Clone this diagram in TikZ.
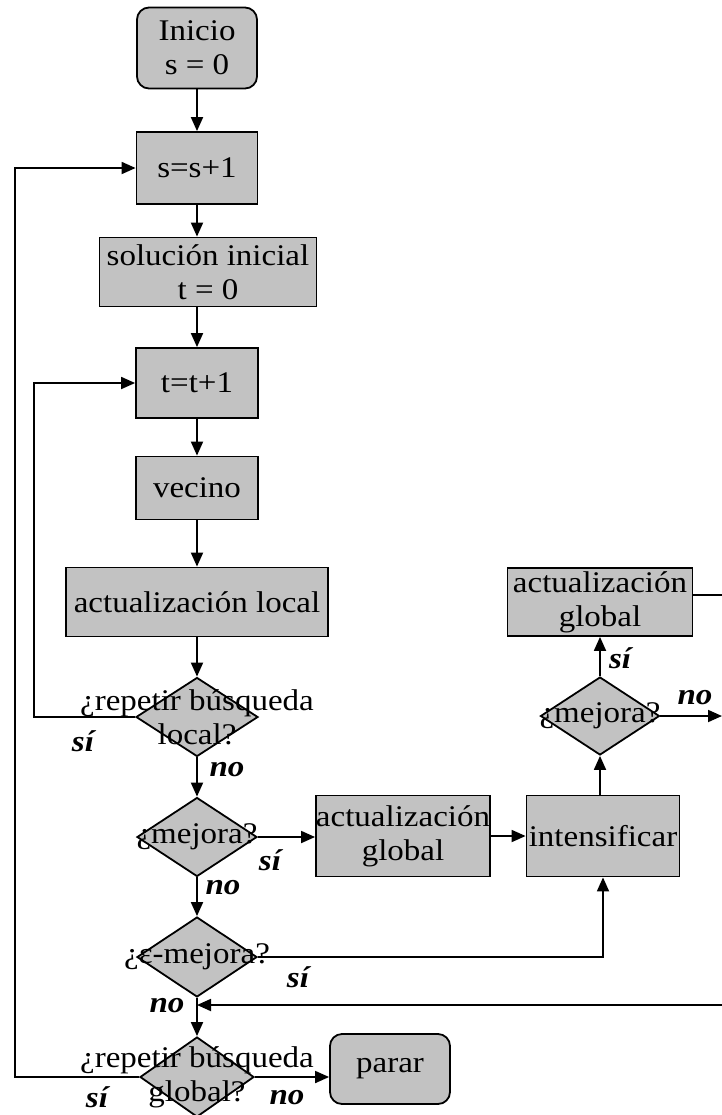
\documentclass[tikz,border=0pt]{standalone}
\usepackage{fontspec}
\setmainfont{Liberation Serif}[FakeStretch=1.1]
\usetikzlibrary{positioning, shapes.geometric, arrows.meta}

\tikzset{
  proc/.style={draw, fill=black!24, inner sep=0pt, align=center, font=\fontsize{15}{17}\selectfont},
  term/.style={proc, rounded corners=6pt},
  dec/.style={draw, fill=black!24, diamond, inner sep=0pt},
  txt/.style={align=center, inner sep=0pt, font=\fontsize{15}{17}\selectfont},
  lbl/.style={font=\fontsize{15}{17}\selectfont\bfseries\itshape},
  flow/.style={-{Triangle[length=7pt,width=6pt]}}
}

\begin{document}
\begin{tikzpicture}[x=0.5pt, y=-0.5pt, line width=0.9pt]
    \useasboundingbox (0,0) rectangle (722,1115);

    % Main column
    \node[term, minimum width=60pt, minimum height=40.5pt] (ini) at (197,48) {Inicio\\s = 0};
    \node[proc, minimum width=60.5pt, minimum height=36pt] (ss) at (197,168) {s=s+1};
    \node[proc, minimum width=108.5pt, minimum height=34.5pt] (sol) at (208,272) {solución inicial\\t = 0};
    \node[proc, minimum width=61pt, minimum height=35pt] (tt) at (197,383) {t=t+1};
    \node[proc, minimum width=61pt, minimum height=31.5pt] (vec) at (197,488) {vecino};
    \node[proc, minimum width=131pt, minimum height=34.5pt] (actl) at (197,602) {actualización local};

    % Decisions
    \node[dec, minimum width=61pt, minimum height=39.5pt, label={[txt]center:{¿repetir búsqueda\\local?}}] (rloc) at (197,717) {};
    \node[dec, minimum width=60pt, minimum height=39.5pt, label={[txt]center:{¿mejora?}}] (mej1) at (197,837) {};
    \node[dec, minimum width=60pt, minimum height=40pt, label={[txt]center:{¿ε-mejora?}}] (eps) at (197,957) {};
    \node[dec, minimum width=57pt, minimum height=40pt, label={[txt]center:{¿repetir búsqueda\\global?}}] (rglo) at (197,1077) {};
    \node[term, minimum width=60pt, minimum height=35pt] (stop) at (390,1069) {parar};

    % Right part
    \node[proc, minimum width=86.5pt, minimum height=40.5pt] (actg1) at (403,836) {actualización\\global};
    \node[proc, minimum width=76.5pt, minimum height=40.5pt] (ints) at (603,836) {intensificar};
    \node[dec, minimum width=59.5pt, minimum height=39pt, label={[txt]center:{¿mejora?}}] (mej2) at (600,716) {};
    \node[proc, minimum width=92.5pt, minimum height=34pt] (actg2) at (600,602) {actualización\\global};

    % Corners and loose ends
    \coordinate (iL) at (34,0);
    \coordinate (oL) at (15,0);
    \coordinate (rA) at (722,595);
    \coordinate (rB) at (722,716);
    \coordinate (rC) at (722,1005);
    \coordinate (join) at (197,1005);

    % Connectors
    \draw[flow] (ini) -- (ss);
    \draw[flow] (ss.south) -- (ss.south |- sol.north);
    \draw[flow] (sol.south -| tt.north) -- (tt.north);
    \draw[flow] (tt) -- (vec);
    \draw[flow] (vec) -- (actl);
    \draw[flow] (actl) -- (rloc);
    \draw[flow] (rloc) -- (mej1);
    \draw[flow] (mej1) -- (eps);
    \draw[flow] (eps) -- (rglo);
    \draw[flow] (rloc.west) -- (rloc.west -| iL) |- (tt.west);
    \draw[flow] (rglo.west) -- (rglo.west -| oL) |- (ss.west);
    \draw[flow] (rglo.east) -- (rglo.east -| stop.west);
    \draw[flow] (mej1.east) -- (mej1.east -| actg1.west);
    \draw[flow] (actg1.east) -- (ints.west);
    \draw[flow] (eps.east) -| (ints.south);
    \draw[flow] (ints.north -| mej2.south) -- (mej2.south);
    \draw[flow] (mej2) -- (actg2);
    \draw ([yshift=3.5pt]actg2.east) -- (rA);
    \draw[flow] (mej2.east) -- (rB);
    \draw[flow] (rC) -- (join);

    % Branch labels
    \foreach \n/\x/\y/\t in {n1/227/770/no, s1/83/741/sí, s2/270/860/sí, n2/223/888/no, s3/620/658/sí, n3/695/698/no, s4/298/977/sí, n4/167/1006/no, s5/97/1097/sí, n5/287/1098/no} {
      \node[lbl] (\n) at (\x,\y) {\t};
    }

\end{tikzpicture}
\end{document}
